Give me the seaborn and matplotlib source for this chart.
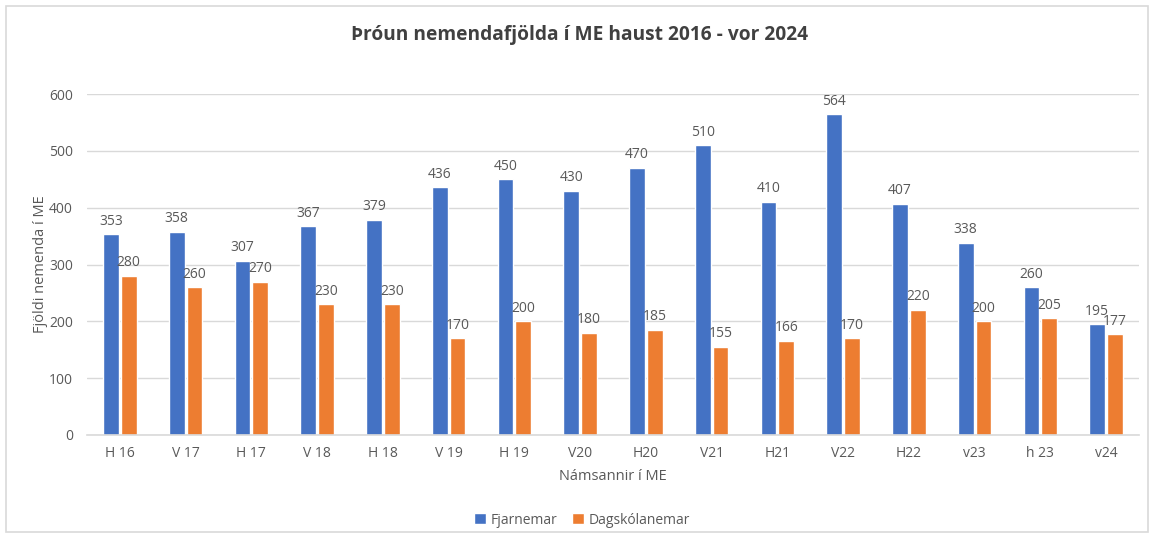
import pandas as pd
import matplotlib.pyplot as plt
import seaborn as sns
from matplotlib.patches import Rectangle

# Námsannir og fjöldi nemenda
terms = ['H 16', 'V 17', 'H 17', 'V 18', 'H 18', 'V 19', 'H 19', 'V20',
         'H20', 'V21', 'H21', 'V22', 'H22', 'v23', 'h 23', 'v24']
fjarnemar = [353, 358, 307, 367, 379, 436, 450, 430, 470, 510, 410, 564, 407, 338, 260, 195]
dagskolanemar = [280, 260, 270, 230, 230, 170, 200, 180, 185, 155, 166, 170, 220, 200, 205, 177]
groups = ['Fjarnemar', 'Dagskólanemar']
colors = ['#4472C4', '#ED7D31']

df = pd.DataFrame({'term': terms * 2,
                   'count': fjarnemar + dagskolanemar,
                   'group': [groups[0]] * len(terms) + [groups[1]] * len(terms)})

sns.set_style('white')
plt.rcParams['font.family'] = ['Open Sans', 'DejaVu Sans']
text_col = '#595959'
grid_col = '#D9D9D9'

fig = plt.figure(figsize=(11.55, 5.4), dpi=100)
ax = fig.add_axes([87 / 1155, 1 - 435 / 540, (1139 - 87) / 1155, (435 - 94) / 540])

sns.barplot(data=df, x='term', y='count', hue='group', order=terms, hue_order=groups,
            palette=colors, width=0.54, gap=0.12, ax=ax, legend=True, saturation=1)

for cont in ax.containers:
    ax.bar_label(cont, padding=4, fontsize=10, color=text_col)

ax.set_ylim(0, 600)
ax.set_yticks(range(0, 601, 100))
ax.yaxis.grid(True, color=grid_col, linewidth=1)
ax.set_axisbelow(True)
for s in ['left', 'right', 'top']:
    ax.spines[s].set_visible(False)
ax.spines['bottom'].set_color(grid_col)
ax.spines['bottom'].set_linewidth(1.2)
ax.tick_params(length=0, labelsize=10, colors=text_col, pad=8)
ax.tick_params(axis='y', pad=10)

ax.set_xlabel('Námsannir í ME', fontsize=10.5, color=text_col, labelpad=6)
ax.set_ylabel('Fjöldi nemenda í ME', fontsize=10.5, color=text_col, labelpad=1)

fig.text(0.502, 1 - 35 / 540, 'Þróun nemendafjölda í ME haust 2016 - vor 2024',
         ha='center', va='center', fontsize=13.8, fontweight='bold', color='#404040')

leg = ax.legend(loc='center', bbox_to_anchor=(0.504, 1 - 520 / 540), bbox_transform=fig.transFigure,
                ncol=2, frameon=False, fontsize=10, handlelength=0.8, handleheight=0.8,
                handletextpad=0.35, columnspacing=1.1)
for t in leg.get_texts():
    t.set_color(text_col)

# ramminn utan um myndina
fig.patches.append(Rectangle((6 / 1155, 8 / 540), 1142 / 1155, 526 / 540,
                             transform=fig.transFigure, fill=False,
                             edgecolor=grid_col, linewidth=1.2))

plt.savefig('out.png', dpi=100)
plt.close()
